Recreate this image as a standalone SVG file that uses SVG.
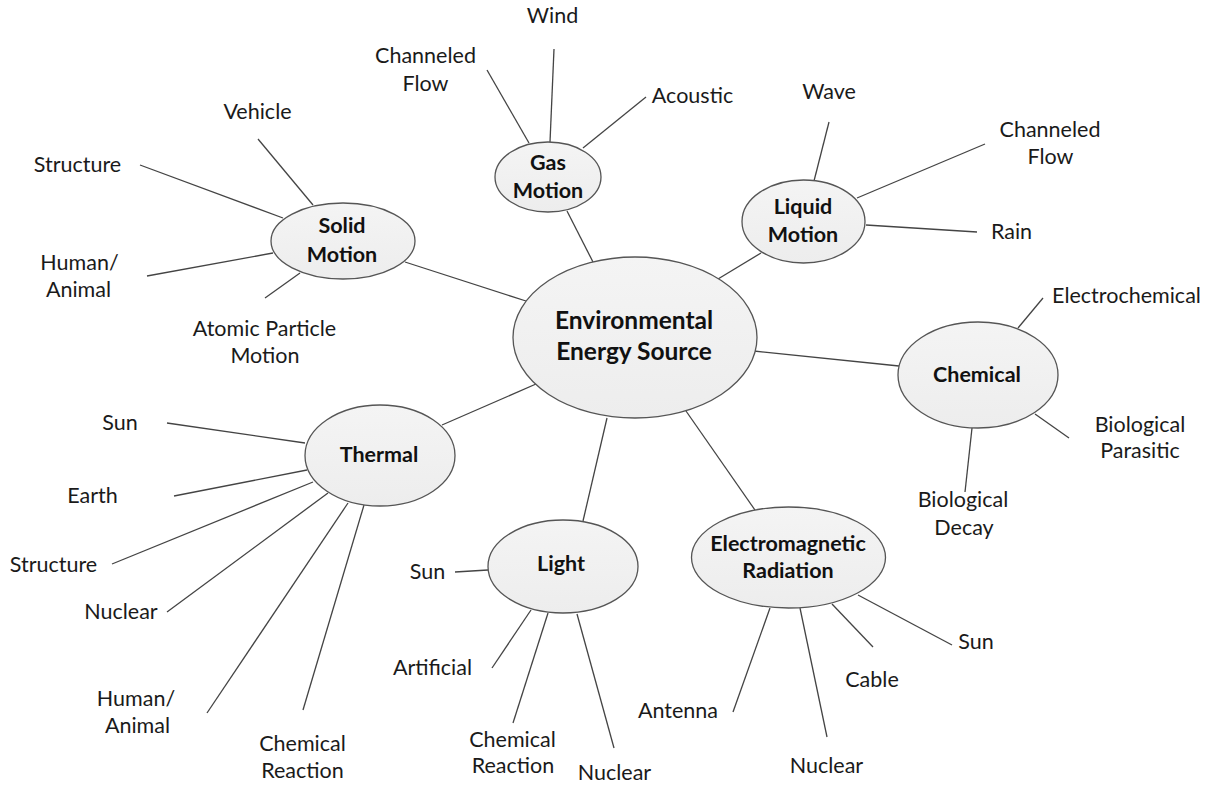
<svg xmlns="http://www.w3.org/2000/svg" width="1208" height="786" viewBox="0 0 1208 786">
<defs>
<linearGradient id="fillg" x1="0" y1="0" x2="0" y2="1">
<stop offset="0" stop-color="#f4f4f4"/>
<stop offset="1" stop-color="#ededed"/>
</linearGradient>
<style>
.node ellipse{fill:url(#fillg);stroke:#555;stroke-width:1.3}
.nt{font-family:Lato,"Open Sans","Liberation Sans",sans-serif;font-weight:bold;font-size:21.5px;fill:#111;text-anchor:middle}
.big{font-size:24.5px}
.lb{font-family:Lato,"Open Sans","Liberation Sans",sans-serif;font-size:21.5px;fill:#1a1a1a;text-anchor:middle}
#connectors line{stroke:#444;stroke-width:1.3}
</style>
</defs>
<rect width="1208" height="786" fill="#fff"/>
<g id="connectors">
<line x1="405" y1="262" x2="526" y2="301"/>
<line x1="442" y1="425" x2="536" y2="384"/>
<line x1="567" y1="211" x2="593" y2="262"/>
<line x1="718" y1="279" x2="761" y2="253"/>
<line x1="754" y1="351" x2="899" y2="366"/>
<line x1="686" y1="411" x2="755" y2="510"/>
<line x1="607" y1="418" x2="583" y2="521"/>
<line x1="258" y1="139" x2="313" y2="205"/>
<line x1="140" y1="165" x2="283" y2="218"/>
<line x1="147" y1="276" x2="273" y2="253"/>
<line x1="265" y1="298" x2="300" y2="273"/>
<line x1="487" y1="70" x2="529" y2="143"/>
<line x1="554" y1="49" x2="550" y2="142"/>
<line x1="646" y1="97" x2="583" y2="148"/>
<line x1="829" y1="122" x2="814" y2="181"/>
<line x1="985" y1="144" x2="857" y2="198"/>
<line x1="977" y1="232" x2="866" y2="225"/>
<line x1="1043" y1="298" x2="1018" y2="328"/>
<line x1="1069" y1="438" x2="1035" y2="414"/>
<line x1="972" y1="428" x2="965" y2="492"/>
<line x1="770" y1="608" x2="733" y2="712"/>
<line x1="800" y1="608" x2="827" y2="737"/>
<line x1="832" y1="604" x2="873" y2="647"/>
<line x1="858" y1="595" x2="952" y2="645"/>
<line x1="455" y1="572" x2="488" y2="570"/>
<line x1="492" y1="668" x2="531" y2="610"/>
<line x1="513" y1="723" x2="548" y2="613"/>
<line x1="614" y1="748" x2="577" y2="614"/>
<line x1="167" y1="423" x2="305" y2="443"/>
<line x1="174" y1="496" x2="307" y2="470"/>
<line x1="112" y1="564" x2="313" y2="482"/>
<line x1="167" y1="612" x2="328" y2="493"/>
<line x1="207" y1="713" x2="348" y2="503"/>
<line x1="303" y1="710" x2="364" y2="505"/>
</g>
<g id="center" class="node">
<ellipse cx="635" cy="337.5" rx="122" ry="80.5"/>
<text class="nt big" x="634" y="329">Environmental</text>
<text class="nt big" x="634" y="360">Energy Source</text>
</g>
<g id="solid" class="node">
<ellipse cx="343" cy="241" rx="72" ry="38"/>
<text class="nt" x="342" y="233">Solid</text>
<text class="nt" x="342" y="262">Motion</text>
</g>
<g id="gas" class="node">
<ellipse cx="548" cy="177" rx="53" ry="35"/>
<text class="nt" x="548" y="170">Gas</text>
<text class="nt" x="548" y="198">Motion</text>
</g>
<g id="liquid" class="node">
<ellipse cx="803.5" cy="221.5" rx="61.5" ry="41.5"/>
<text class="nt" x="803" y="214">Liquid</text>
<text class="nt" x="803" y="242">Motion</text>
</g>
<g id="chemical" class="node">
<ellipse cx="978" cy="375" rx="80" ry="53"/>
<text class="nt" x="977" y="382">Chemical</text>
</g>
<g id="em" class="node">
<ellipse cx="788.5" cy="557.5" rx="97" ry="50.5"/>
<text class="nt" x="788" y="551">Electromagnetic</text>
<text class="nt" x="788" y="578">Radiation</text>
</g>
<g id="light" class="node">
<ellipse cx="563" cy="566.5" rx="75" ry="46.5"/>
<text class="nt" x="561" y="571">Light</text>
</g>
<g id="thermal" class="node">
<ellipse cx="380" cy="455.5" rx="75" ry="50.5"/>
<text class="nt" x="379" y="462">Thermal</text>
</g>
<g id="labels">
<text class="lb" x="257.5" y="119">Vehicle</text>
<text class="lb" x="77.5" y="172">Structure</text>
<text class="lb" x="79.5" y="270">Human/</text>
<text class="lb" x="78.5" y="297">Animal</text>
<text class="lb" x="264.5" y="336">Atomic Particle</text>
<text class="lb" x="265" y="363">Motion</text>
<text class="lb" x="552.5" y="23">Wind</text>
<text class="lb" x="425.5" y="63">Channeled</text>
<text class="lb" x="425.5" y="91">Flow</text>
<text class="lb" x="692.5" y="103">Acoustic</text>
<text class="lb" x="829" y="99">Wave</text>
<text class="lb" x="1050" y="137">Channeled</text>
<text class="lb" x="1050.5" y="164">Flow</text>
<text class="lb" x="1011.5" y="239">Rain</text>
<text class="lb" x="1126.5" y="303">Electrochemical</text>
<text class="lb" x="1140" y="432">Biological</text>
<text class="lb" x="1140" y="458">Parasitic</text>
<text class="lb" x="963" y="507">Biological</text>
<text class="lb" x="964" y="535">Decay</text>
<text class="lb" x="678" y="718">Antenna</text>
<text class="lb" x="826.5" y="773">Nuclear</text>
<text class="lb" x="872" y="687">Cable</text>
<text class="lb" x="976" y="649">Sun</text>
<text class="lb" x="427.5" y="579">Sun</text>
<text class="lb" x="432.5" y="675">Artificial</text>
<text class="lb" x="512.5" y="747">Chemical</text>
<text class="lb" x="513" y="773">Reaction</text>
<text class="lb" x="614.5" y="780">Nuclear</text>
<text class="lb" x="120" y="430">Sun</text>
<text class="lb" x="92.5" y="503">Earth</text>
<text class="lb" x="53.5" y="572">Structure</text>
<text class="lb" x="121" y="619">Nuclear</text>
<text class="lb" x="136" y="706">Human/</text>
<text class="lb" x="137.5" y="733">Animal</text>
<text class="lb" x="302.5" y="751">Chemical</text>
<text class="lb" x="302.5" y="778">Reaction</text>
</g>
</svg>
